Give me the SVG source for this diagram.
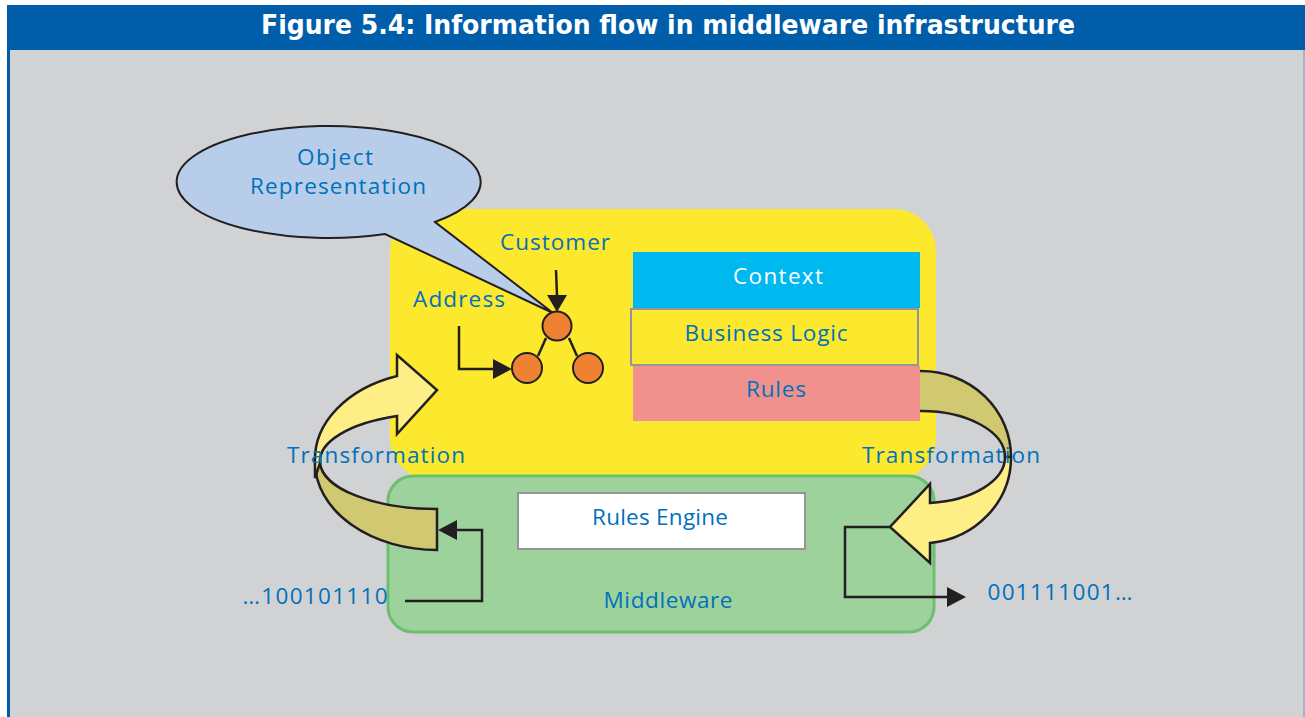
<svg xmlns="http://www.w3.org/2000/svg" width="1305" height="717" viewBox="0 0 1305 717">
<style>
.t{font-family:"Open Sans","Noto Sans","Liberation Sans",sans-serif;font-size:22.5px;fill:#0071BC;text-anchor:middle}
.w{fill:#FFFFFF}
.ln{fill:none;stroke:#231F20;stroke-width:2.5}
.band{stroke:#231F20;stroke-width:2.5;stroke-linejoin:miter}
</style>
<rect x="0" y="0" width="1305" height="717" fill="#FFFFFF"/>
<rect x="7" y="50" width="1297" height="667" fill="#D1D2D4"/>
<rect x="7" y="50" width="3" height="667" fill="#005DA9"/>
<rect x="1303" y="50" width="2" height="667" fill="#A9B4C2"/>
<g id="title">
<rect x="7" y="5" width="1298" height="45" fill="#005DA9"/>
<text x="668" y="34" font-family="DejaVu Sans Condensed,DejaVu Sans,Liberation Sans,sans-serif" font-weight="bold" font-size="27" fill="#FFFFFF" text-anchor="middle" textLength="814" lengthAdjust="spacingAndGlyphs">Figure 5.4: Information flow in middleware infrastructure</text>
</g>
<g id="object-layer">
<rect x="390" y="209" width="546" height="271" rx="42" fill="#FCE82C"/>
</g>
<g id="middleware">
<rect x="388" y="476" width="546" height="156" rx="25" fill="#9DD29C" stroke="#6CBF6F" stroke-width="3"/>
<text class="t" x="668" y="608" textLength="129">Middleware</text>
</g>
<g id="rules-engine">
<rect x="518" y="493" width="287" height="56" fill="#FFFFFF" stroke="#939598" stroke-width="2"/>
<text class="t" x="660" y="525" textLength="136">Rules Engine</text>
</g>
<g id="right-transform-back">
<path class="band" fill="#D0C972" d="M918,371 L921,371 A90,86 0 0 1 1011,457 L1005,457 A84,46 0 0 0 921,411 L918,411 Z"/>
</g>
<g id="context">
<rect x="633" y="252" width="287" height="56" fill="#00B8F0"/>
<text class="t w" x="778" y="284" textLength="90">Context</text>
</g>
<g id="business-logic">
<rect x="631" y="309" width="287" height="56" fill="#FCE82C" stroke="#939598" stroke-width="2"/>
<text class="t" x="766" y="341" textLength="163">Business Logic</text>
</g>
<g id="rules">
<rect x="633" y="366" width="287" height="55" fill="#F0918E"/>
<text class="t" x="776" y="397" textLength="60">Rules</text>
</g>
<g id="right-transform-front">
<path class="band" fill="#FEEE86" d="M1011,457 A90,86 0 0 1 930,543 L930,563 L890,527 L930,484 L930,503 A84,46 0 0 0 1005,457 Z"/>
</g>
<g id="left-transform">
<path class="band" fill="#D0C972" d="M437,550 A122,88 0 0 1 315,463 L320,463 A117,48 0 0 0 437,509 Z"/>
<path class="band" fill="#FEEE86" d="M315,478 L315,461 A122,88 0 0 1 397,376 L397,355 L437,390 L397,434 L397,416 A117,48 0 0 0 320,463 Z"/>
</g>
<g id="callout">
<path d="M435,222 A152,56 0 1 0 385,234 L553,313 Z" fill="#B7CDEA" stroke="#231F20" stroke-width="2"/>
<text class="t" x="335" y="165" textLength="76">Object</text>
<text class="t" x="338" y="194" textLength="176">Representation</text>
</g>
<g id="object-tree">
<text class="t" x="555" y="250" textLength="110">Customer</text>
<text class="t" x="459" y="307" textLength="92">Address</text>
<line class="ln" x1="546" y1="338" x2="538" y2="356"/>
<line class="ln" x1="569" y1="338" x2="577" y2="356"/>
<circle cx="557" cy="326" r="14.5" fill="#EE8232" stroke="#231F20" stroke-width="2"/>
<circle cx="527" cy="368" r="15" fill="#EE8232" stroke="#231F20" stroke-width="2"/>
<circle cx="588" cy="368" r="15" fill="#EE8232" stroke="#231F20" stroke-width="2"/>
</g>
<g id="connectors">
<path d="M556,270 L557,296" class="ln"/>
<path d="M547,295 L567,295 L557,312 Z" fill="#231F20"/>
<path d="M459,326 L459,369 L494,369" class="ln"/>
<path d="M493,359 L493,379 L512,369 Z" fill="#231F20"/>
<path d="M405,601 L482,601 L482,530 L456,530" class="ln"/>
<path d="M457,520 L457,540 L438,530 Z" fill="#231F20"/>
<path d="M890,527 L845,527 L845,597 L948,597" class="ln"/>
<path d="M947,587 L947,607 L966,597 Z" fill="#231F20"/>
</g>
<g id="labels">
<text class="t" x="376" y="463" textLength="178">Transformation</text>
<text class="t" x="951" y="463" textLength="178">Transformation</text>
<text class="t" x="315" y="604" textLength="145">…100101110</text>
<text class="t" x="1060" y="600" textLength="145">001111001…</text>
</g>
</svg>
